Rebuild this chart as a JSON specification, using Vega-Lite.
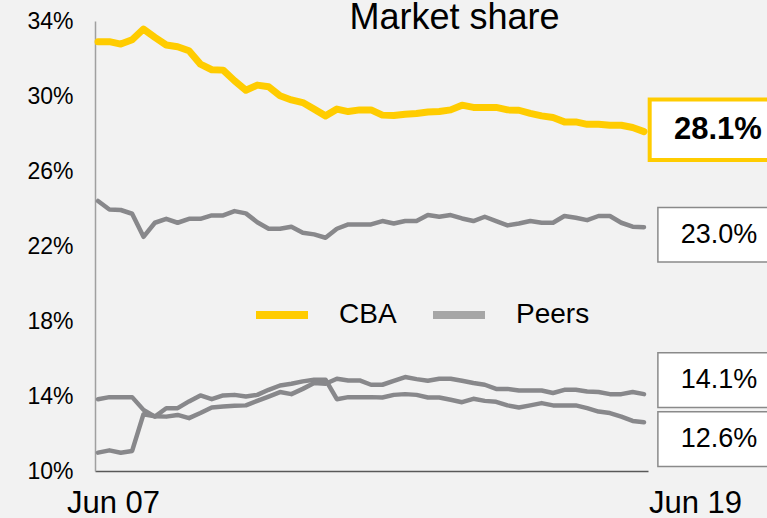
{
  "$schema": "https://vega.github.io/schema/vega-lite/v6.json",
  "autosize": {"type": "none"},
  "width": 553,
  "height": 450,
  "padding": {"left": 95, "top": 21, "right": 119, "bottom": 47},
  "background": "#f2f2f2",
  "config": {
    "font": "Liberation Sans",
    "view": {"stroke": null},
    "axis": {"grid": false, "ticks": false, "title": null, "labelColor": "#000000", "labelFont": "Liberation Sans"}
  },
  "title": {
    "text": "Market share",
    "fontSize": 36,
    "fontWeight": "normal",
    "color": "#000000",
    "font": "Liberation Sans",
    "anchor": "middle",
    "frame": "group",
    "baseline": "alphabetic",
    "dx": 83,
    "dy": 36,
    "offset": -19
  },
  "datasets": {
    "lines": [
      {"i": 0, "CBA": 32.9, "Peer 1": 24.4, "Peer 2": 13.83, "Peer 3": 10.98},
      {"i": 1, "CBA": 32.9, "Peer 1": 23.95, "Peer 2": 13.94, "Peer 3": 11.1},
      {"i": 2, "CBA": 32.77, "Peer 1": 23.92, "Peer 2": 13.94, "Peer 3": 10.97},
      {"i": 3, "CBA": 33.0, "Peer 1": 23.72, "Peer 2": 13.94, "Peer 3": 11.07},
      {"i": 4, "CBA": 33.57, "Peer 1": 22.49, "Peer 2": 13.26, "Peer 3": 13.03},
      {"i": 5, "CBA": 33.13, "Peer 1": 23.24, "Peer 2": 12.9, "Peer 3": 12.92},
      {"i": 6, "CBA": 32.72, "Peer 1": 23.45, "Peer 2": 13.35, "Peer 3": 12.9},
      {"i": 7, "CBA": 32.63, "Peer 1": 23.24, "Peer 2": 13.35, "Peer 3": 12.99},
      {"i": 8, "CBA": 32.41, "Peer 1": 23.45, "Peer 2": 13.71, "Peer 3": 12.82},
      {"i": 9, "CBA": 31.7, "Peer 1": 23.45, "Peer 2": 14.03, "Peer 3": 13.09},
      {"i": 10, "CBA": 31.4, "Peer 1": 23.63, "Peer 2": 13.83, "Peer 3": 13.39},
      {"i": 11, "CBA": 31.38, "Peer 1": 23.63, "Peer 2": 14.03, "Peer 3": 13.44},
      {"i": 12, "CBA": 30.81, "Peer 1": 23.86, "Peer 2": 14.06, "Peer 3": 13.48},
      {"i": 13, "CBA": 30.31, "Peer 1": 23.74, "Peer 2": 13.97, "Peer 3": 13.5},
      {"i": 14, "CBA": 30.58, "Peer 1": 23.27, "Peer 2": 14.06, "Peer 3": 13.74},
      {"i": 15, "CBA": 30.49, "Peer 1": 22.92, "Peer 2": 14.33, "Peer 3": 13.97},
      {"i": 16, "CBA": 30.01, "Peer 1": 22.92, "Peer 2": 14.56, "Peer 3": 14.21},
      {"i": 17, "CBA": 29.79, "Peer 1": 23.03, "Peer 2": 14.65, "Peer 3": 14.1},
      {"i": 18, "CBA": 29.65, "Peer 1": 22.71, "Peer 2": 14.78, "Peer 3": 14.38},
      {"i": 19, "CBA": 29.3, "Peer 1": 22.62, "Peer 2": 14.87, "Peer 3": 14.69},
      {"i": 20, "CBA": 28.94, "Peer 1": 22.44, "Peer 2": 14.87, "Peer 3": 14.65},
      {"i": 21, "CBA": 29.3, "Peer 1": 22.92, "Peer 2": 13.83, "Peer 3": 14.92},
      {"i": 22, "CBA": 29.17, "Peer 1": 23.15, "Peer 2": 13.94, "Peer 3": 14.83},
      {"i": 23, "CBA": 29.26, "Peer 1": 23.15, "Peer 2": 13.94, "Peer 3": 14.83},
      {"i": 24, "CBA": 29.26, "Peer 1": 23.15, "Peer 2": 13.94, "Peer 3": 14.6},
      {"i": 25, "CBA": 28.98, "Peer 1": 23.33, "Peer 2": 13.92, "Peer 3": 14.6},
      {"i": 26, "CBA": 28.96, "Peer 1": 23.2, "Peer 2": 14.06, "Peer 3": 14.81},
      {"i": 27, "CBA": 29.03, "Peer 1": 23.33, "Peer 2": 14.1, "Peer 3": 15.01},
      {"i": 28, "CBA": 29.07, "Peer 1": 23.33, "Peer 2": 14.06, "Peer 3": 14.9},
      {"i": 29, "CBA": 29.15, "Peer 1": 23.65, "Peer 2": 13.92, "Peer 3": 14.81},
      {"i": 30, "CBA": 29.17, "Peer 1": 23.56, "Peer 2": 13.92, "Peer 3": 14.92},
      {"i": 31, "CBA": 29.26, "Peer 1": 23.65, "Peer 2": 13.8, "Peer 3": 14.92},
      {"i": 32, "CBA": 29.51, "Peer 1": 23.47, "Peer 2": 13.67, "Peer 3": 14.81},
      {"i": 33, "CBA": 29.39, "Peer 1": 23.33, "Peer 2": 13.85, "Peer 3": 14.69},
      {"i": 34, "CBA": 29.39, "Peer 1": 23.56, "Peer 2": 13.74, "Peer 3": 14.6},
      {"i": 35, "CBA": 29.39, "Peer 1": 23.33, "Peer 2": 13.69, "Peer 3": 14.38},
      {"i": 36, "CBA": 29.26, "Peer 1": 23.1, "Peer 2": 13.5, "Peer 3": 14.38},
      {"i": 37, "CBA": 29.24, "Peer 1": 23.2, "Peer 2": 13.39, "Peer 3": 14.29},
      {"i": 38, "CBA": 29.07, "Peer 1": 23.33, "Peer 2": 13.5, "Peer 3": 14.29},
      {"i": 39, "CBA": 28.94, "Peer 1": 23.24, "Peer 2": 13.62, "Peer 3": 14.29},
      {"i": 40, "CBA": 28.85, "Peer 1": 23.24, "Peer 2": 13.5, "Peer 3": 14.16},
      {"i": 41, "CBA": 28.62, "Peer 1": 23.6, "Peer 2": 13.5, "Peer 3": 14.33},
      {"i": 42, "CBA": 28.62, "Peer 1": 23.51, "Peer 2": 13.5, "Peer 3": 14.33},
      {"i": 43, "CBA": 28.49, "Peer 1": 23.38, "Peer 2": 13.35, "Peer 3": 14.24},
      {"i": 44, "CBA": 28.49, "Peer 1": 23.6, "Peer 2": 13.17, "Peer 3": 14.21},
      {"i": 45, "CBA": 28.44, "Peer 1": 23.6, "Peer 2": 13.09, "Peer 3": 14.1},
      {"i": 46, "CBA": 28.44, "Peer 1": 23.24, "Peer 2": 12.9, "Peer 3": 14.1},
      {"i": 47, "CBA": 28.32, "Peer 1": 23.03, "Peer 2": 12.67, "Peer 3": 14.21},
      {"i": 48, "CBA": 28.1, "Peer 1": 23.0, "Peer 2": 12.6, "Peer 3": 14.1}
    ],
    "groups": [
      {"line": "CBA", "series": "CBA"},
      {"line": "Peer 1", "series": "Peers"},
      {"line": "Peer 2", "series": "Peers"},
      {"line": "Peer 3", "series": "Peers"}
    ],
    "labels": [
      {"line": "CBA", "text": "28.1%", "at": 28.2},
      {"line": "Peer 1", "text": "23.0%", "at": 22.6},
      {"line": "Peer 3", "text": "14.1%", "at": 14.85},
      {"line": "Peer 2", "text": "12.6%", "at": 11.7}
    ]
  },
  "layer": [
    {
      "data": {"name": "lines"},
      "transform": [
        {"fold": ["CBA", "Peer 1", "Peer 2", "Peer 3"], "as": ["line", "v"]},
        {"lookup": "line", "from": {"data": {"name": "groups"}, "key": "line", "fields": ["series"]}},
        {"filter": "datum.i < 0"}
      ],
      "mark": {"type": "line"},
      "encoding": {
        "x": {
          "field": "i", "type": "quantitative",
          "scale": {"domain": [-0.264, 48.35], "nice": false, "zero": false},
          "axis": {
            "values": [0, 48],
            "labelExpr": "datum.value == 0 ? 'Jun 07' : 'Jun 19'",
            "labelFontSize": 31,
            "labelFlush": false,
            "labelAlign": "center",
            "labelBaseline": "top",
            "labelPadding": 17,
            "labelOffset": {"condition": {"test": "datum.value == 0", "value": 15}, "value": 51},
            "domainColor": "#595959",
            "domainWidth": 1.5
          }
        },
        "y": {
          "field": "v", "type": "quantitative",
          "scale": {"domain": [10, 34], "nice": false, "zero": false},
          "axis": {
            "values": [10, 14, 18, 22, 26, 30, 34],
            "labelExpr": "datum.value + '%'",
            "labelFontSize": 23,
            "labelPadding": 22,
            "labelBaseline": "middle",
            "domainColor": "#a0a0a0",
            "domainWidth": 1.5
          }
        },
        "color": {
          "field": "series", "type": "nominal",
          "scale": {"domain": ["CBA", "Peers"], "range": ["#FFCC00", "#a6a6a6"]},
          "legend": {
            "orient": "none",
            "legendX": 157,
            "legendY": 264,
            "direction": "horizontal",
            "title": null,
            "padding": 0,
            "symbolType": "stroke",
            "symbolSize": 2704,
            "symbolStrokeWidth": 8,
            "labelFontSize": 28,
            "labelFont": "Liberation Sans",
            "labelColor": "#000000",
            "labelOffset": 27,
            "columnPadding": 20,
            "labelLimit": 200
          }
        }
      }
    },
    {
      "data": {"name": "lines"},
      "transform": [
        {"fold": ["Peer 1", "Peer 2", "Peer 3"], "as": ["line", "v"]}
      ],
      "mark": {"type": "line", "stroke": "#88888b", "strokeWidth": 4.5, "strokeCap": "round", "strokeJoin": "round"},
      "encoding": {
        "x": {"field": "i", "type": "quantitative"},
        "y": {"field": "v", "type": "quantitative"},
        "detail": {"field": "line"}
      }
    },
    {
      "data": {"name": "lines"},
      "mark": {"type": "line", "stroke": "#FFCC00", "strokeWidth": 7, "strokeCap": "round", "strokeJoin": "round"},
      "encoding": {
        "x": {"field": "i", "type": "quantitative"},
        "y": {"field": "CBA", "type": "quantitative"}
      }
    },
    {
      "data": {"name": "labels"},
      "transform": [{"filter": "datum.line != 'CBA'"}],
      "mark": {"type": "point", "shape": "M-1,-0.46L1,-0.46L1,0.46L-1,0.46Z", "size": 14161, "filled": true, "fill": "#ffffff", "stroke": "#8a8a8a", "strokeWidth": 1.5, "opacity": 1, "fillOpacity": 1},
      "encoding": {
        "x": {"datum": 54.45, "type": "quantitative"},
        "y": {"field": "at", "type": "quantitative"}
      }
    },
    {
      "data": {"name": "labels"},
      "transform": [{"filter": "datum.line == 'CBA'"}],
      "mark": {"type": "point", "shape": "M-1,-0.46L1,-0.46L1,0.46L-1,0.46Z", "size": 17424, "filled": true, "fill": "#ffffff", "stroke": "#FFCC00", "strokeWidth": 4, "opacity": 1, "fillOpacity": 1},
      "encoding": {
        "x": {"datum": 54.3, "type": "quantitative"},
        "y": {"field": "at", "type": "quantitative"}
      }
    },
    {
      "data": {"name": "labels"},
      "transform": [{"filter": "datum.line != 'CBA'"}],
      "mark": {"type": "text", "fontSize": 27, "font": "Liberation Sans", "color": "#000000", "align": "center", "baseline": "middle"},
      "encoding": {
        "x": {"datum": 54.6, "type": "quantitative"},
        "y": {"field": "at", "type": "quantitative"},
        "text": {"field": "text"}
      }
    },
    {
      "data": {"name": "labels"},
      "transform": [{"filter": "datum.line == 'CBA'"}],
      "mark": {"type": "text", "fontSize": 31, "fontWeight": "bold", "font": "Liberation Sans", "color": "#000000", "align": "center", "baseline": "middle"},
      "encoding": {
        "x": {"datum": 54.5, "type": "quantitative"},
        "y": {"field": "at", "type": "quantitative"},
        "text": {"field": "text"}
      }
    }
  ]
}
